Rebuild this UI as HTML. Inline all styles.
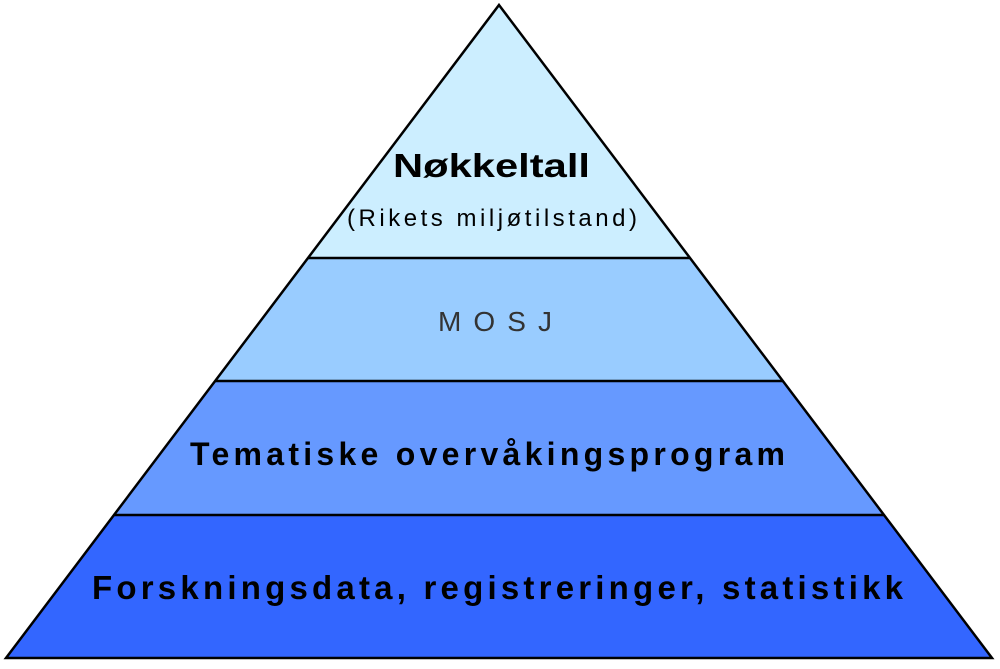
<!DOCTYPE html>
<html><head><style>body{margin:0;background:#fff}</style></head><body>
<svg width="1000" height="664" viewBox="0 0 1000 664" xmlns="http://www.w3.org/2000/svg" font-family="Liberation Sans, sans-serif">
<polygon points="499,5 308,258 690,258" fill="#cceeff"/>
<polygon points="308,258 690,258 783,381 215,381" fill="#99ccff"/>
<polygon points="215,381 783,381 884,515 114,515" fill="#6699ff"/>
<polygon points="114,515 884,515 992,658 6,658" fill="#3366ff"/>
<g stroke="#000" stroke-width="2.5" fill="none">
<polygon points="499,5 992,658 6,658"/>
<line x1="308" y1="258" x2="690" y2="258"/>
<line x1="215" y1="381" x2="783" y2="381"/>
<line x1="114" y1="515" x2="884" y2="515"/>
</g>
<g fill="#000">
<text x="393" y="177" font-size="33" font-weight="bold" textLength="197" lengthAdjust="spacingAndGlyphs">Nøkkeltall</text>
<text x="347" y="226" font-size="24" textLength="290" lengthAdjust="spacing">(Rikets miljøtilstand)</text>
<text x="438" y="331" font-size="28" fill="#333" textLength="114" lengthAdjust="spacing">MOSJ</text>
<text x="190" y="465" font-size="32" font-weight="bold" textLength="595" lengthAdjust="spacing">Tematiske overvåkingsprogram</text>
<text x="92" y="599" font-size="33" font-weight="bold" textLength="811" lengthAdjust="spacing">Forskningsdata, registreringer, statistikk</text>
</g>
</svg>
</body></html>
